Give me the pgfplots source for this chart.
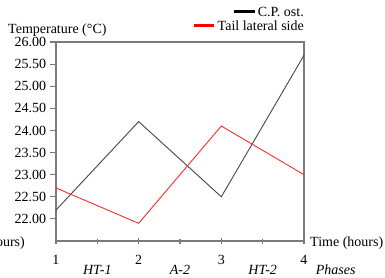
\documentclass[border=0pt]{standalone}
\usepackage{pgfplots}
\pgfplotsset{compat=1.18}
\usepackage{fontspec}
\setmainfont{Liberation Serif}
\definecolor{axgray}{HTML}{7A7A7A}
\definecolor{ser1}{HTML}{454545}
\definecolor{ser2}{HTML}{FF2A2A}
\begin{document}
\fontsize{14bp}{16bp}\selectfont
\begin{tikzpicture}
\begin{axis}[name=ax, scale only axis, width=248bp, height=199bp,
  xmin=1, xmax=4, ymin=21.5, ymax=26,
  xtick={1,2,3,4}, minor xtick={1.5,2.5,3.5},
  ytick={22,22.5,23,23.5,24,24.5,25,25.5,26},
  axis line style={draw=axgray, line width=1.3bp},
  every tick/.style={axgray, line width=1.1bp},
  major tick length=6bp, minor tick length=5bp,
  xtick align=center, ytick align=outside,
  xtick pos=bottom, ytick pos=left,
  /pgf/number format/assume math mode=true,
  ticklabel style={font=\fontsize{14bp}{16bp}\selectfont},
  xticklabel style={yshift=-6bp},
  yticklabel style={xshift=1bp,/pgf/number format/.cd, fixed, fixed zerofill, precision=2},
  clip=false]
\addplot[ser1, line width=0.9bp] coordinates {(1,22.2) (2,24.2) (3,22.5) (4,25.7)};
\addplot[ser2, line width=0.9bp] coordinates {(1,22.7) (2,21.9) (3,24.1) (4,23.0)};
\node[font=\itshape, anchor=base] at (axis cs:1.5,21.5) [yshift=-33bp] {HT-1};
\node[font=\itshape, anchor=base] at (axis cs:2.5,21.5) [yshift=-33bp] {A-2};
\node[font=\itshape, anchor=base] at (axis cs:3.5,21.5) [yshift=-33bp] {HT-2};
\end{axis}
\node[anchor=base west, font=\itshape] at ([shift={(7bp,-33bp)}]ax.south east) {Phases};
\node[anchor=west, inner sep=0pt] at ([shift={(6bp,-2bp)}]ax.south east) {Time (hours)};
\node[anchor=east, inner sep=0pt] at ([shift={(-31bp,-2bp)}]ax.south west) {Time (hours)};
\node[anchor=west, inner sep=0pt] at ([shift={(-48bp,12bp)}]ax.north west) {Temperature (°C)};
% legend
\node[anchor=east, inner sep=0pt] (l1) at ([shift={(0bp,30bp)}]ax.north east) {C.P. ost.};
\draw[black, line width=3bp] ([xshift=-3bp]l1.west) -- ++(-21bp,0);
\node[anchor=east, inner sep=0pt] (l2) at ([shift={(0bp,16bp)}]ax.north east) {Tail lateral side};
\draw[red, line width=3bp] ([xshift=-4bp]l2.west) -- ++(-20bp,0);
\pgfresetboundingbox
\useasboundingbox ([shift={(-56bp,-37bp)}]ax.south west) rectangle ([shift={(81bp,42bp)}]ax.north east);
\end{tikzpicture}
\end{document}
